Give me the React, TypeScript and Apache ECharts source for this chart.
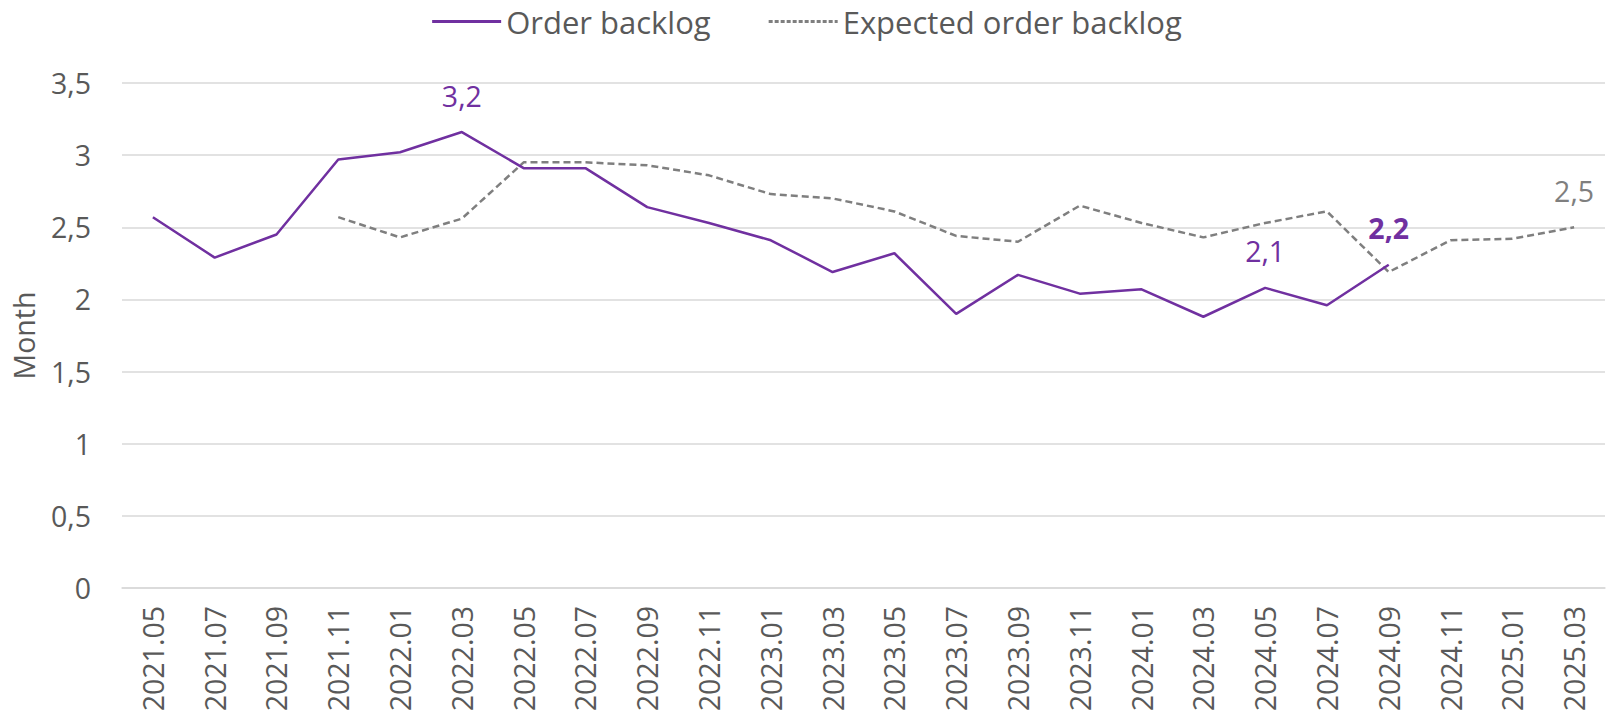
import React, { useEffect, useRef } from "react";
import * as echarts from "echarts";

const categories = [
  "2021.05", "2021.07", "2021.09", "2021.11", "2022.01", "2022.03", "2022.05", "2022.07",
  "2022.09", "2022.11", "2023.01", "2023.03", "2023.05", "2023.07", "2023.09", "2023.11",
  "2024.01", "2024.03", "2024.05", "2024.07", "2024.09", "2024.11", "2025.01", "2025.03",
];

const orderBacklog: (number | null)[] = [
  2.57, 2.29, 2.45, 2.97, 3.02, 3.16, 2.91, 2.91,
  2.64, 2.53, 2.41, 2.19, 2.32, 1.90, 2.17, 2.04,
  2.07, 1.88, 2.08, 1.96, 2.24, null, null, null,
];

const expectedBacklog: (number | null)[] = [
  null, null, null, 2.57, 2.43, 2.56, 2.95, 2.95,
  2.93, 2.86, 2.73, 2.70, 2.61, 2.44, 2.40, 2.65,
  2.53, 2.43, 2.53, 2.61, 2.19, 2.41, 2.42, 2.50,
];

const orderLabelIdx = [5, 18];
const orderBoldLabelIdx = [20];
const expectedLabelIdx = [23];

const yTicks = { min: 0, max: 3.5, interval: 0.5 };

const PURPLE = "#7030A0";
const GREY_LINE = "#7F7F7F";
const TEXT = "#595959";
const FONT = "'Open Sans', 'Noto Sans', sans-serif";

const SOLID_ICON = "path://M0,0 L69,0 L69,3 L0,3 Z";
const DASH_ICON =
  "path://M0,0 L4,0 L4,3 L0,3 Z M6,0 L10,0 L10,3 L6,3 Z M12,0 L16,0 L16,3 L12,3 Z M18,0 L22,0 L22,3 L18,3 Z M24,0 L28,0 L28,3 L24,3 Z M30,0 L34,0 L34,3 L30,3 Z M36,0 L40,0 L40,3 L36,3 Z M42,0 L46,0 L46,3 L42,3 Z M48,0 L52,0 L52,3 L48,3 Z M54,0 L58,0 L58,3 L54,3 Z M60,0 L64,0 L64,3 L60,3 Z M66,0 L69,0 L69,3 L66,3 Z";

const fmt = (v: number, d?: number) =>
  (d === undefined ? String(v) : v.toFixed(d)).replace(".", ",");

export default function App() {
  const ref = useRef<HTMLDivElement>(null);
  useEffect(() => {
    if (!ref.current) return;
    const chart = echarts.init(ref.current, null, { renderer: "svg" });

    const labelled = (v: number | null, bold: boolean) => ({
      value: v,
      symbol: "circle",
      symbolSize: 0,
      label: bold ? { show: true, fontWeight: "bold" } : { show: true },
    });

    const orderData = orderBacklog.map((v, i) => {
      if (orderLabelIdx.includes(i)) return labelled(v, false);
      if (orderBoldLabelIdx.includes(i)) return labelled(v, true);
      return v;
    });
    const expData = expectedBacklog.map((v, i) =>
      expectedLabelIdx.includes(i) ? labelled(v, false) : v
    );

    chart.setOption({
      animation: false,
      textStyle: { fontFamily: FONT },
      legend: {
        top: 1,
        left: "center",
        itemWidth: 69,
        itemHeight: 3,
        itemGap: 58,
        symbolKeepAspect: false,
        textStyle: { color: TEXT, fontSize: 31, fontFamily: FONT },
        data: [
          { name: "Order backlog", icon: SOLID_ICON },
          { name: "Expected order backlog", icon: DASH_ICON },
        ],
      },
      grid: { left: 122, right: 9, top: 83, bottom: 134, containLabel: false },
      xAxis: {
        type: "category",
        data: categories,
        boundaryGap: true,
        axisLine: { show: true, lineStyle: { color: "#D9D9D9", width: 1.5 } },
        axisTick: { show: false },
        axisLabel: {
          rotate: 90,
          color: TEXT,
          fontSize: 28.5,
          fontFamily: FONT,
          margin: 18,
          interval: 0,
        },
      },
      yAxis: {
        type: "value",
        min: yTicks.min,
        max: yTicks.max,
        interval: yTicks.interval,
        name: "Month",
        nameLocation: "middle",
        nameGap: 84,
        nameTextStyle: { color: TEXT, fontSize: 28.5, fontFamily: FONT },
        axisLine: { show: false },
        axisTick: { show: false },
        axisLabel: {
          color: TEXT,
          fontSize: 28.5,
          fontFamily: FONT,
          margin: 31,
          formatter: (v: number) => fmt(v),
        },
        splitLine: { lineStyle: { color: "#D9D9D9", width: 1.5 } },
      },
      series: [
        {
          name: "Order backlog",
          type: "line",
          data: orderData,
          symbol: "none",
          connectNulls: false,
          lineStyle: { color: PURPLE, width: 2.5 },
          itemStyle: { color: PURPLE },
          label: {
            show: false,
            position: "top",
            distance: 22,
            color: PURPLE,
            fontSize: 28.5,
            fontFamily: FONT,
            formatter: (p: any) => fmt(p.value, 1),
          },
          z: 3,
        },
        {
          name: "Expected order backlog",
          type: "line",
          data: expData,
          symbol: "none",
          lineStyle: { color: GREY_LINE, width: 2.5, type: [7, 4] },
          itemStyle: { color: GREY_LINE },
          label: {
            show: false,
            position: "top",
            distance: 22,
            color: "#7F7F7F",
            fontSize: 28.5,
            fontFamily: FONT,
            formatter: (p: any) => fmt(p.value, 1),
          },
          z: 2,
        },
      ],
    });
    return () => chart.dispose();
  }, []);

  return (
    <div
      ref={ref}
      style={{ position: "absolute", left: 0, top: 0, width: 1614, height: 722, background: "#fff" }}
    />
  );
}
